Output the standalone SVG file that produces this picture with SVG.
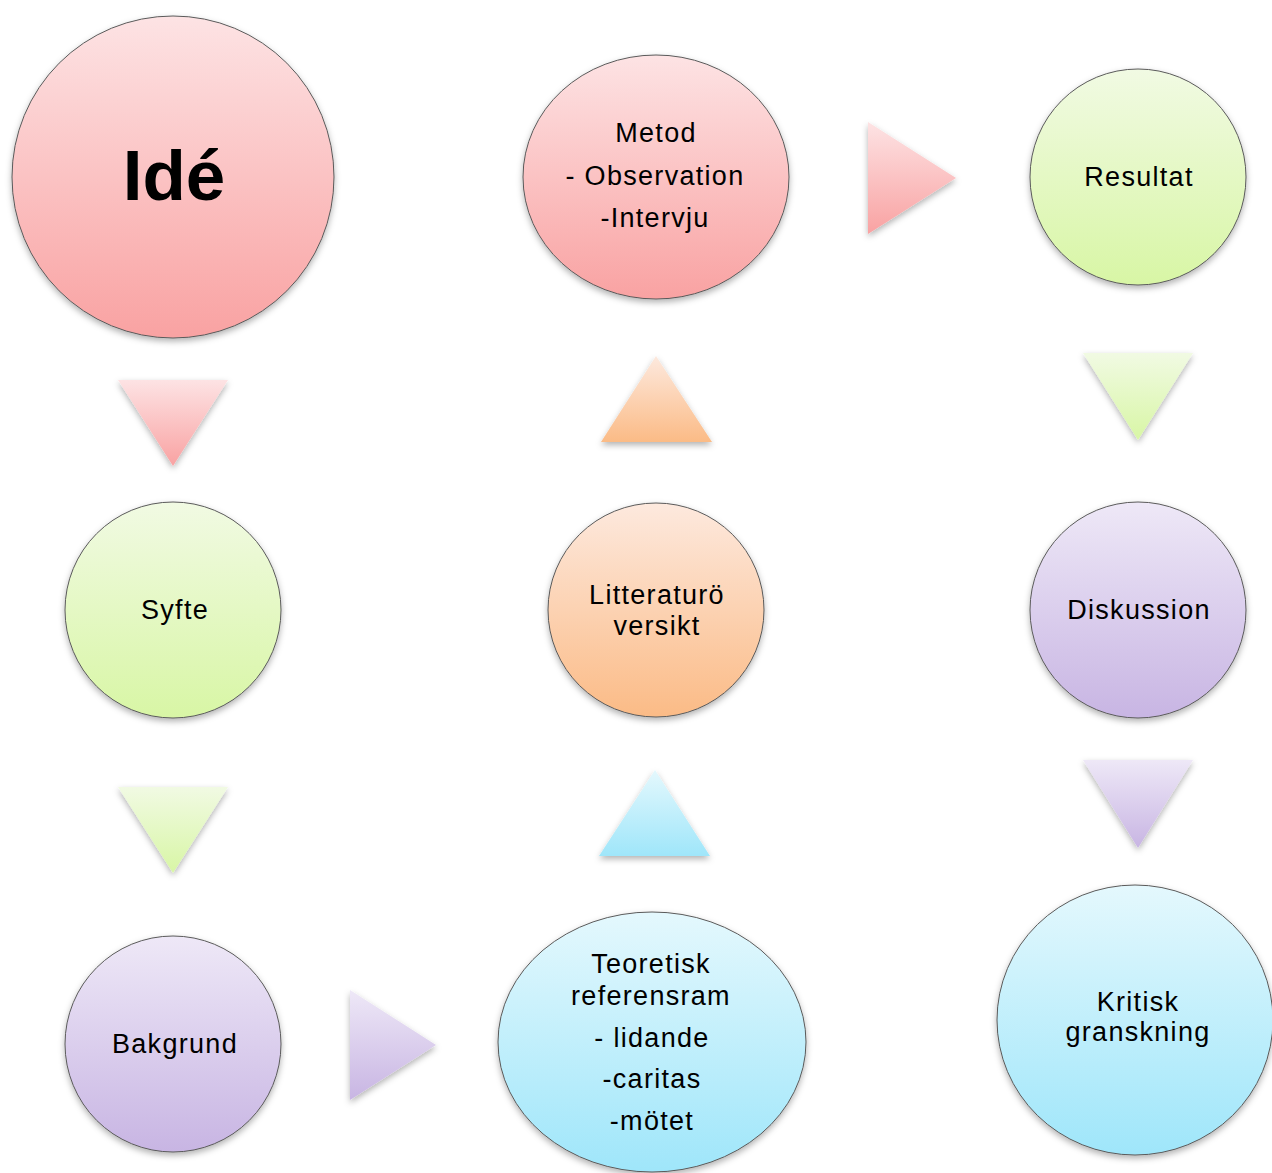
<svg xmlns="http://www.w3.org/2000/svg" width="1272" height="1173" viewBox="0 0 1272 1173">
<defs>
<linearGradient id="gRed" x1="0" y1="0" x2="0" y2="1"><stop offset="0" stop-color="#fde3e4"/><stop offset="1" stop-color="#f9a2a2"/></linearGradient>
<linearGradient id="gGreen" x1="0" y1="0" x2="0" y2="1"><stop offset="0" stop-color="#f1fae3"/><stop offset="1" stop-color="#d8f6a5"/></linearGradient>
<linearGradient id="gOrange" x1="0" y1="0" x2="0" y2="1"><stop offset="0" stop-color="#fde9de"/><stop offset="1" stop-color="#fbbb86"/></linearGradient>
<linearGradient id="gPurple" x1="0" y1="0" x2="0" y2="1"><stop offset="0" stop-color="#eee8f7"/><stop offset="1" stop-color="#c8b5e3"/></linearGradient>
<linearGradient id="gBlue" x1="0" y1="0" x2="0" y2="1"><stop offset="0" stop-color="#e4f8fd"/><stop offset="1" stop-color="#9fe6fa"/></linearGradient>
<filter id="sh" x="-20%" y="-20%" width="140%" height="150%">
<feDropShadow dx="0" dy="3" stdDeviation="3" flood-color="#000" flood-opacity="0.3"/>
</filter>
</defs>
<style>
.node{stroke:#5a5a5a;stroke-width:1;filter:url(#sh)}
.arr{filter:url(#sh)}
text{font-family:"Liberation Sans",Arial,sans-serif;font-size:27px;letter-spacing:1.3px;fill:#000;text-anchor:middle}
.big{font-size:71px;font-weight:bold;letter-spacing:0}
</style>
<g id="connectors">
<polygon class="arr" points="118,380 228,380 173,466" fill="url(#gRed)"/>
<polygon class="arr" points="118,787 228,787 173,873" fill="url(#gGreen)"/>
<polygon class="arr" points="350,990 436,1045 350,1100" fill="url(#gPurple)"/>
<polygon class="arr" points="599,856 710,856 655,770" fill="url(#gBlue)"/>
<polygon class="arr" points="601,442 712,442 656,356" fill="url(#gOrange)"/>
<polygon class="arr" points="868,122 956,178 868,234" fill="url(#gRed)"/>
<polygon class="arr" points="1083,353 1193,353 1138,440" fill="url(#gGreen)"/>
<polygon class="arr" points="1083,760 1193,760 1138,848" fill="url(#gPurple)"/>
</g>
<g id="ide"><circle class="node" cx="173" cy="177" r="161" fill="url(#gRed)"/><text class="big" x="174" y="200">Idé</text></g>
<g id="metod"><ellipse class="node" cx="656" cy="177" rx="133" ry="122" fill="url(#gRed)"/>
<text x="656" y="142">Metod</text><text x="655" y="185">- Observation</text><text x="655" y="227">-Intervju</text></g>
<g id="resultat"><circle class="node" cx="1138" cy="177" r="108" fill="url(#gGreen)"/><text x="1139" y="186">Resultat</text></g>
<g id="syfte"><circle class="node" cx="173" cy="610" r="108" fill="url(#gGreen)"/><text x="175" y="619">Syfte</text></g>
<g id="litteratur"><ellipse class="node" cx="656" cy="610" rx="108" ry="107" fill="url(#gOrange)"/>
<text x="657" y="604">Litteraturö</text><text x="657" y="635">versikt</text></g>
<g id="diskussion"><circle class="node" cx="1138" cy="610" r="108" fill="url(#gPurple)"/><text x="1139" y="619">Diskussion</text></g>
<g id="bakgrund"><circle class="node" cx="173" cy="1044" r="108" fill="url(#gPurple)"/><text x="175" y="1053">Bakgrund</text></g>
<g id="teoretisk"><ellipse class="node" cx="652" cy="1042" rx="154" ry="130" fill="url(#gBlue)"/>
<text x="651" y="973">Teoretisk</text><text x="651" y="1005">referensram</text><text x="652" y="1047">- lidande</text><text x="652" y="1088">-caritas</text><text x="652" y="1130">-mötet</text></g>
<g id="kritisk"><ellipse class="node" cx="1135" cy="1020" rx="138" ry="135" fill="url(#gBlue)"/>
<text x="1138" y="1011">Kritisk</text><text x="1138" y="1041">granskning</text></g>
</svg>
